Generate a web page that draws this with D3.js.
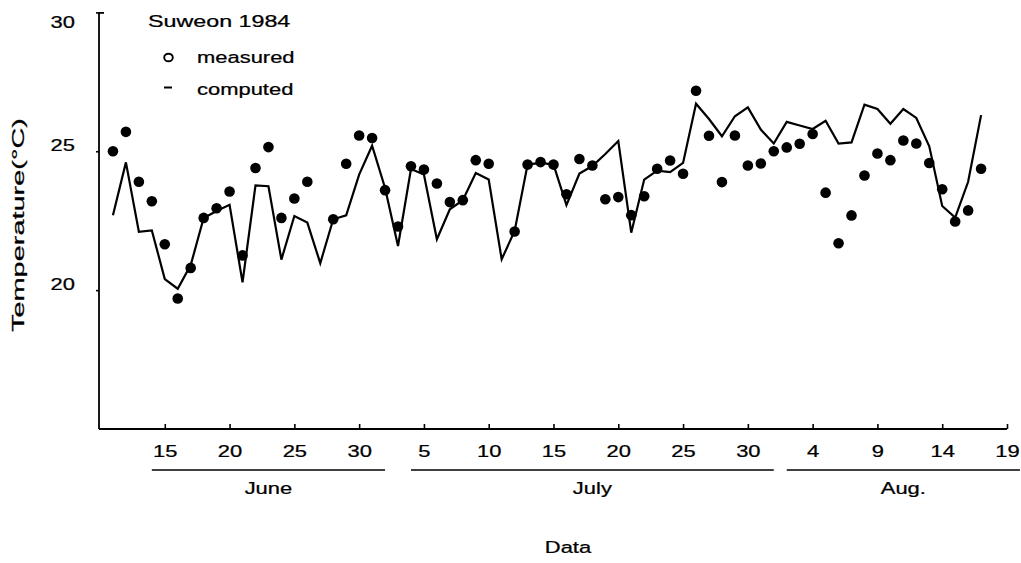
<!DOCTYPE html>
<html>
<head>
<meta charset="utf-8">
<script src="https://cdn.jsdelivr.net/npm/d3@7"></script>
<style>
  html, body { margin: 0; padding: 0; background: #fff; }
  svg { display: block; }
  text { font-family: "Liberation Sans", Arial, Helvetica, sans-serif; fill: #000; stroke: #000; stroke-width: 0.25px; }
</style>
</head>
<body>
<svg id="chart" width="1021" height="563"></svg>
<script>
// Daily air temperature, Suweon 1984 (June 11 - Aug 17)
const firstDay = "1984-06-11";
const lastDay = "1984-08-17";

// measured daily values (null = no observation)
const measuredJune = [25.0, 25.7, 23.9, 23.2, 21.65, 19.7, 20.8, 22.6, 22.95, 23.55,
                      21.25, 24.4, 25.15, 22.6, 23.3, 23.9, null, 22.55, 24.55, 25.57];
const measuredJuly = [25.48, 23.6, 22.29, 24.46, 24.34, 23.84, 23.17, 23.24, 24.68, 24.55,
                      null, 22.11, 24.52, 24.61, 24.52, 23.45, 24.72, 24.49, 23.27, 23.35,
                      22.7, 23.38, 24.37, 24.67, 24.19, 27.18, 25.56, 23.89, 25.57, 24.49, 24.56];
const measuredAug  = [25.0, 25.14, 25.27, 25.62, 23.51, 21.69, 22.69, 24.13, 24.92, 24.68,
                      25.39, 25.28, 24.58, 23.63, 22.47, 22.87, 24.37];

// computed daily values
const computedJune = [22.7, 24.6, 22.1, 22.15, 20.4, 20.05, 20.9, 22.6, 22.85, 23.07,
                      20.28, 23.77, 23.74, 21.1, 22.67, 22.43, 20.97, 22.55, 22.69, 24.16];
const computedJuly = [25.2, 23.68, 21.59, 24.36, 24.16, 21.83, 22.91, 23.24, 24.22, 23.98,
                      21.11, 22.13, 24.52, 24.58, 24.52, 23.06, 24.2, 24.47, 24.9, 25.37,
                      22.07, 23.98, 24.3, 24.25, 24.58, 26.71, 26.16, 25.54, 26.26, 26.58, 25.78];
const computedAug  = [25.28, 26.06, 25.93, 25.8, 26.1, 25.28, 25.32, 26.68, 26.52, 25.99,
                      26.52, 26.2, 25.18, 23.03, 22.61, 23.9, 26.3];

// axis ticks
const yTickValues = [30, 25, 20];
const xTickDays = ["1984-06-15", "1984-06-20", "1984-06-25", "1984-06-30",
                   "1984-07-05", "1984-07-10", "1984-07-15", "1984-07-20", "1984-07-25", "1984-07-30",
                   "1984-08-04", "1984-08-09", "1984-08-14", "1984-08-19"];
const xTickLabels = ["15", "20", "25", "30", "5", "10", "15", "20", "25", "30", "4", "9", "14", "19"];

// month brackets under the day numbers
const monthNames = ["June", "July", "Aug."];
const monthFrom = ["1984-06-14", "1984-07-04", "1984-08-02"];
const monthTo   = ["1984-07-02", "1984-08-01", "1984-08-20"];

const parse = d3.utcParse("%Y-%m-%d");
const days = d3.utcDay.range(parse(firstDay), d3.utcDay.offset(parse(lastDay), 1));
const measured = measuredJune.concat(measuredJuly, measuredAug);
const computed = computedJune.concat(computedJuly, computedAug);
const series = days.map((d, i) => ({ date: d, measured: measured[i], computed: computed[i] }));

const STRETCH = 1.33;   // wide lettering
const FS = 16.5;

const svg = d3.select("#chart");

const x = d3.scaleUtc()
  .domain([parse("1984-06-10"), parse("1984-08-19")])
  .range([100, 1007]);
const y = d3.scaleLinear()
  .domain([15, 30])
  .range([429, 12.4]);

const x0 = x.range()[0];
const yBase = y(15);

// ---- x axis ----
const xAxis = d3.axisBottom(x)
  .tickValues(xTickDays.map(parse))
  .tickFormat((d, i) => xTickLabels[i])
  .tickSize(-5)
  .tickSizeOuter(0);

const gx = svg.append("g")
  .attr("transform", `translate(0,${yBase})`)
  .call(xAxis);
gx.select(".domain").attr("stroke", "#000").attr("stroke-width", 1.8)
  .attr("d", `M${x0 - 1},0H${x.range()[1]}`);
gx.selectAll(".tick line").attr("stroke", "#000").attr("stroke-width", 1.6);
gx.selectAll(".tick text")
  .attr("font-size", FS)
  .attr("fill", "#000")
  .attr("dy", null)
  .attr("y", 0)
  .attr("transform", `translate(0,${457 - yBase}) scale(${STRETCH},1)`);

// ---- y axis ----
const yAxis = d3.axisLeft(y)
  .tickValues(yTickValues)
  .tickFormat(d3.format("d"))
  .tickSize(3)
  .tickPadding(21)
  .tickSizeOuter(0);

const gy = svg.append("g")
  .attr("transform", `translate(${x0 - 1},0)`)
  .call(yAxis);
gy.select(".domain").attr("stroke", "#000").attr("stroke-width", 1.8)
  .attr("d", `M0,${y(30)}V${yBase}`);
gy.selectAll(".tick line").attr("stroke", "#000").attr("stroke-width", 1.6);
gy.selectAll(".tick text")
  .attr("font-size", FS)
  .attr("fill", "#000")
  .attr("dy", null)
  .attr("y", 0)
  .attr("transform", d => {
    const base = Math.max(y(d) - 1, 27) - y(d);
    return `translate(-24,${base}) scale(${STRETCH},1)`;
  })
  .attr("x", 0);

// small bracket at the top of the y axis
const gyr = svg.append("g")
  .attr("transform", `translate(${x0 - 1},0)`)
  .call(d3.axisRight(y).tickValues([30]).tickSize(5).tickSizeOuter(0).tickFormat(""));
gyr.select(".domain").remove();
gyr.selectAll(".tick line").attr("stroke", "#000").attr("stroke-width", 1.8);

// ---- computed line ----
const line = d3.line()
  .defined(d => d.computed != null)
  .x(d => x(d.date))
  .y(d => y(d.computed));

svg.append("path")
  .datum(series)
  .attr("fill", "none")
  .attr("stroke", "#000")
  .attr("stroke-width", 2.2)
  .attr("stroke-linejoin", "miter")
  .attr("d", line);

// ---- measured points ----
svg.append("g")
  .selectAll("circle")
  .data(series.filter(d => d.measured != null))
  .join("circle")
  .attr("cx", d => x(d.date))
  .attr("cy", d => y(d.measured))
  .attr("r", 5.3)
  .attr("fill", "#000");

// ---- legend ----
function label(g, txt, tx, ty, anchor, size) {
  return g.append("text")
    .attr("transform", `translate(${tx},${ty}) scale(${STRETCH},1)`)
    .attr("text-anchor", anchor)
    .attr("font-size", size || FS)
    .text(txt);
}
const legend = svg.append("g");
label(legend, "Suweon 1984", 148, 27, "start").attr("textLength", 107).attr("lengthAdjust", "spacingAndGlyphs");
legend.append("ellipse")
  .attr("cx", 168.5).attr("cy", 57.5)
  .attr("rx", 4.3).attr("ry", 3.8)
  .attr("fill", "none").attr("stroke", "#000").attr("stroke-width", 1.9);
label(legend, "measured", 197, 63, "start");
legend.append("line")
  .attr("x1", 164).attr("x2", 172)
  .attr("y1", 87.5).attr("y2", 87.5)
  .attr("stroke", "#000").attr("stroke-width", 2);
label(legend, "computed", 197, 95, "start");

// ---- month brackets ----
const gm = svg.append("g");
monthNames.forEach((m, i) => {
  const a = x(parse(monthFrom[i])), b = x(parse(monthTo[i]));
  gm.append("line")
    .attr("x1", a).attr("x2", b)
    .attr("y1", 470).attr("y2", 470)
    .attr("stroke", "#000").attr("stroke-width", 1.6);
  label(gm, m, (a + b) / 2, 494, "middle");
});

// ---- axis titles ----
label(svg, "Data", 568, 553, "middle");
svg.append("text")
  .attr("transform", "translate(24,225) rotate(-90)")
  .attr("text-anchor", "middle")
  .attr("font-size", 17)
  .attr("textLength", 214)
  .attr("lengthAdjust", "spacingAndGlyphs")
  .text("Temperature(°C)");
</script>
</body>
</html>
